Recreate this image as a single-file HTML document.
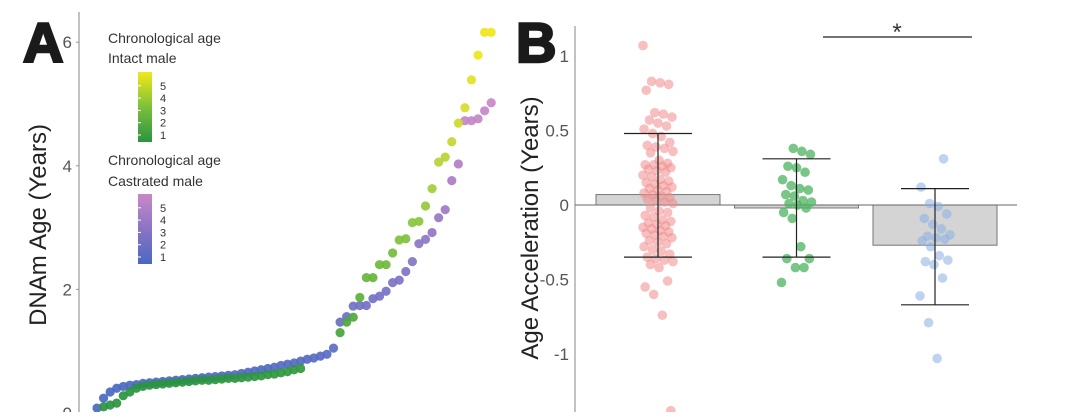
<!DOCTYPE html>
<html><head><meta charset="utf-8">
<style>
body{margin:0;background:#fff;width:1080px;height:412px;overflow:hidden;font-family:"Liberation Sans",Arial,sans-serif;}
svg text{font-family:"Liberation Sans",Arial,sans-serif;}
</style></head>
<body>
<svg id="fig" width="1080" height="412" viewBox="0 0 1080 412">
<g id="panelA">
 <text x="23" y="62" font-size="56" font-weight="bold" fill="#1a1a1a" stroke="#1a1a1a" stroke-width="2.5">A</text>
 <text transform="translate(46,225) rotate(-90)" text-anchor="middle" font-size="24" fill="#222">DNAm Age (Years)</text>
 <line x1="79" y1="12" x2="79" y2="412" stroke="#999" stroke-width="1.2"/>
 <g id="ticksA"></g>
 <g id="legendA">
  <defs>
   <linearGradient id="gInt" x1="0" y1="1" x2="0" y2="0"><stop offset="0" stop-color="#2a9440"/><stop offset="0.5" stop-color="#7cc03c"/><stop offset="1" stop-color="#f2e81a"/></linearGradient>
   <linearGradient id="gCas" x1="0" y1="1" x2="0" y2="0"><stop offset="0" stop-color="#4a68c0"/><stop offset="0.5" stop-color="#8a74c4"/><stop offset="1" stop-color="#c888c8"/></linearGradient>
  </defs>
  <text x="108" y="43" font-size="14" fill="#333">Chronological age</text>
  <text x="108" y="63" font-size="14" fill="#333">Intact male</text>
  <rect x="138" y="72" width="14" height="70" fill="url(#gInt)"/>
  <text x="108" y="165" font-size="14" fill="#333">Chronological age</text>
  <text x="108" y="186" font-size="14" fill="#333">Castrated male</text>
  <rect x="138" y="194" width="14" height="70" fill="url(#gCas)"/>
  <g id="cbLabels"></g>
 </g>
 <g id="pointsA"></g>
</g>
<g id="panelB">
 <text x="516" y="62" font-size="56" font-weight="bold" fill="#1a1a1a" stroke="#1a1a1a" stroke-width="2.5">B</text>
 <text transform="translate(538,228) rotate(-90)" text-anchor="middle" font-size="24" fill="#222">Age Acceleration (Years)</text>
 <line x1="575" y1="26" x2="575" y2="412" stroke="#999" stroke-width="1.2"/>
 <g id="ticksB"></g>
 <g id="barsB"></g>
 <line x1="575" y1="205" x2="1017" y2="205" stroke="#666" stroke-width="1"/>
 <g id="ptsB"></g>
 <g id="errB"></g>
 <line x1="823" y1="37" x2="972" y2="37" stroke="#222" stroke-width="1.3"/>
 <text x="897" y="40" text-anchor="middle" font-size="24" fill="#333">*</text>
</g>
</svg>
<script>
const NS="http://www.w3.org/2000/svg";
// Panel A data
const ticksA=[0,2,4,6];
const cbTicks=[1,2,3,4,5];
const castrated=[0.08,0.24,0.34,0.40,0.43,0.45,0.46,0.48,0.49,0.50,0.51,0.52,0.53,0.54,0.55,0.56,0.57,0.58,0.59,0.60,0.61,0.62,0.64,0.66,0.68,0.70,0.72,0.74,0.77,0.79,0.81,0.84,0.87,0.89,0.92,0.95,1.05,
1.47,1.56,1.73,1.74,1.74,1.85,1.89,1.97,2.11,2.15,2.29,2.45,2.74,2.81,2.92,3.16,3.29,3.76,4.03,4.73,4.73,4.76,4.89,5.02];
const intact=[null,0.10,0.13,0.16,0.28,0.34,0.40,0.43,0.45,0.46,0.47,0.48,0.49,0.50,0.51,0.52,0.53,0.53,0.54,0.55,0.56,0.56,0.57,0.58,0.59,0.60,0.62,0.63,0.65,0.67,0.70,0.72,null,null,null,null,null,
1.30,1.47,1.55,1.87,2.19,2.19,2.40,2.40,2.59,2.80,2.82,3.08,3.10,3.35,3.63,4.06,4.14,4.39,4.69,4.94,5.39,5.79,6.16,6.16];
// Panel B data
const ticksB=[1,0.5,0,-0.5,-1];
const tickLabelsB=["1","0.5","0","-0.5","-1"];
const groups=["intact","castrated-a","castrated-b"];
const means=[0.07,-0.02,-0.27];
const errHi=[0.48,0.31,0.11];
const errLo=[-0.35,-0.35,-0.67];
const g1=[1.07,0.83,0.82,0.81,0.77,0.62,0.61,0.59,0.57,0.55,0.53,0.51,0.48,0.46,0.42,0.40,0.39,0.38,0.36,0.35,0.30,0.28,0.27,0.27,0.26,0.25,0.24,0.23,0.22,0.20,0.19,0.17,0.16,0.15,0.14,0.13,0.12,0.11,0.10,0.09,0.08,0.07,0.06,0.05,0.04,0.03,0.02,0.01,-0.02,-0.04,-0.05,-0.07,-0.08,-0.10,-0.11,-0.12,-0.13,-0.14,-0.15,-0.16,-0.17,-0.18,-0.19,-0.20,-0.21,-0.22,-0.24,-0.25,-0.26,-0.28,-0.30,-0.31,-0.33,-0.35,-0.36,-0.37,-0.38,-0.40,-0.42,-0.51,-0.55,-0.60,-0.74,-1.38];
const g2=[0.38,0.36,0.34,0.26,0.25,0.22,0.17,0.13,0.11,0.10,0.07,0.06,0.03,0.02,0.01,0.00,-0.02,-0.05,-0.09,-0.28,-0.36,-0.36,-0.42,-0.42,-0.52];
const g3=[0.31,0.12,0.01,-0.01,-0.06,-0.09,-0.13,-0.16,-0.20,-0.21,-0.22,-0.23,-0.24,-0.28,-0.34,-0.37,-0.38,-0.40,-0.49,-0.61,-0.79,-1.03];

const yA=v=>413-61.8*v;
const xA=i=>97+i*6.57;
const yB=v=>205-149*v;
const xB=i=>658+i*138.5;

function el(tag,attrs,parent){const e=document.createElementNS(NS,tag);for(const k in attrs)e.setAttribute(k,attrs[k]);parent.appendChild(e);return e;}
function lerp(a,b,t){return a.map((v,i)=>Math.round(v+(b[i]-v)*t));}
function ramp(stops,t){t=Math.max(0,Math.min(1,t));const n=stops.length-1;const k=Math.min(n-1,Math.floor(t*n));const c=lerp(stops[k],stops[k+1],t*n-k);return `rgb(${c[0]},${c[1]},${c[2]})`;}
const intStops=[[42,148,64],[90,176,58],[140,198,62],[200,216,48],[240,230,28]];
const casStops=[[74,104,192],[110,112,196],[140,118,196],[176,124,196],[200,136,200]];

const tA=document.getElementById('ticksA');
ticksA.forEach(v=>{
 const t=el('text',{x:72,y:yA(v)+6,'text-anchor':'end','font-size':17,fill:'#555'},tA);
 
 
 t.textContent=v;
 const l=el('line',{x1:76,x2:79,y1:yA(v),y2:yA(v),stroke:'#999'},tA);
 
 
});
const cb=document.getElementById('cbLabels');
[[72,142],[194,264]].forEach(([top,bot])=>{
 cbTicks.forEach(v=>{
  const y=bot-7-(v-1)*12.3;
  const t=el('text',{x:160,y:y+4,'font-size':11,fill:'#333'},cb);
  
  
  t.textContent=v;
  const l=el('line',{x1:138,x2:141,y1:y,y2:y,stroke:'#fff'},cb);
  
  
 });
});
const pA=document.getElementById('pointsA');
castrated.forEach((v,i)=>{if(v==null)return;
 const c=el('circle',{cx:xA(i),cy:yA(v),r:4.6,fill:ramp(casStops,(v-0.5)/4.5),'fill-opacity':0.92},pA);
 
 
});
intact.forEach((v,i)=>{if(v==null)return;
 const c=el('circle',{cx:xA(i),cy:yA(v),r:4.6,fill:ramp(intStops,(v-0.5)/5.3),'fill-opacity':0.92},pA);
 
 
});

const tB=document.getElementById('ticksB');
ticksB.forEach((v,i)=>{
 const t=el('text',{x:569,y:yB(v)+6,'text-anchor':'end','font-size':17,fill:'#555'},tB);
 
 
 t.textContent=tickLabelsB[i];
});
const bB=document.getElementById('barsB'),eB=document.getElementById('errB'),pB=document.getElementById('ptsB');
means.forEach((m,i)=>{
 const cx=xB(i);
 const y0=Math.min(yB(m),yB(0)),h=Math.max(1.5,Math.abs(yB(m)-yB(0)));
 const r=el('rect',{x:cx-62,y:y0,width:124,height:h,fill:'#d4d4d4',stroke:'#777','stroke-width':1},bB);
 
 
 const g=el('g',{stroke:'#222','stroke-width':1.2},eB);
 
 
 el('line',{x1:cx,x2:cx,y1:yB(errHi[i]),y2:yB(errLo[i])},g);
 el('line',{x1:cx-34,x2:cx+34,y1:yB(errHi[i]),y2:yB(errHi[i])},g);
 el('line',{x1:cx-34,x2:cx+34,y1:yB(errLo[i]),y2:yB(errLo[i])},g);
});
const cols=['#f08a8a','#4cb360','#88aee2'];
[g1,g2,g3].forEach((arr,gi)=>{
 arr.forEach((v,j)=>{
  const jit=(((j*37+gi*11)%29)/28-0.5)*30;
  const c=el('circle',{cx:xB(gi)+jit,cy:yB(v),r:4.8,fill:cols[gi],'fill-opacity':gi==1?0.75:0.55},pB);
  
  
 });
});
</script>
</body></html>
